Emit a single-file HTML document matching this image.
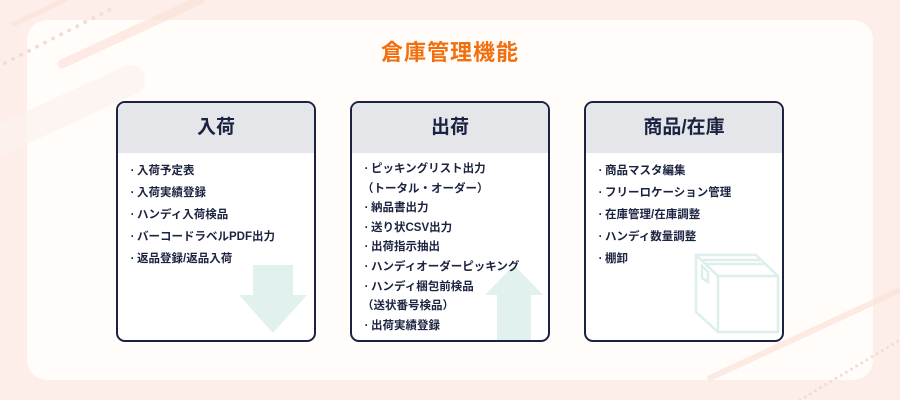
<!DOCTYPE html>
<html><head><meta charset="utf-8"><style>
body{margin:0;width:900px;height:400px;overflow:hidden;background:#fdeee9;position:relative;font-family:"Liberation Sans","Noto Sans CJK JP",sans-serif}
.card{position:absolute;left:27px;top:20px;width:846px;height:360px;background:#fffcfa;border-radius:20px}
.title{position:absolute;left:0;width:900px;top:35px;text-align:center;color:#f0700f;font-size:22px;font-weight:bold;letter-spacing:1px}
.box{position:absolute;top:101px;width:196px;height:237px;border:2.5px solid #1c2340;border-radius:9px;background:#fff;overflow:hidden}
.hd{height:50px;background:#e4e6ea;text-align:center;line-height:50px;font-size:19px;font-weight:bold;color:#1c2340}
ul{list-style:none;margin:0;padding:7px 0 0 10px;font-size:11.5px;font-weight:bold;color:#1c2340;position:relative;z-index:2}
li{line-height:22px;white-space:nowrap}
li b{display:inline-block;width:9px;text-align:center}
.b2 li{line-height:19.6px}
svg{position:absolute;z-index:1}
</style></head><body>
<svg style="left:0;top:0" width="900" height="400">
<g stroke="#fbe3da" stroke-linecap="round" opacity="0.7">
<line x1="14" y1="24" x2="65" y2="0" stroke-width="5"/>
<line x1="62" y1="64" x2="200" y2="0" stroke-width="9"/>
<line x1="0" y1="140" x2="130" y2="80" stroke-width="30" stroke="#fdf3ef"/>
<line x1="710" y1="378" x2="900" y2="290" stroke-width="6"/>
</g>
<line x1="5" y1="63" x2="115" y2="7" stroke="#f3dcd6" stroke-width="4" stroke-dasharray="0 9" stroke-linecap="round"/>
<line x1="800" y1="400" x2="900" y2="340" stroke="#f3dcd6" stroke-width="3" stroke-dasharray="0 6" stroke-linecap="round"/>
</svg>
<div class="card"></div>
<div class="title">倉庫管理機能</div>

<div class="box" style="left:116px">
<div class="hd">入荷</div>
<svg style="left:121px;top:162px" width="70" height="70"><polygon points="14,0 54,0 54,30 68,30 34,68 0,30 14,30" fill="#e0f1ee"/></svg>
<ul><li><b>·</b>入荷予定表</li><li><b>·</b>入荷実績登録</li><li><b>·</b>ハンディ入荷検品</li><li><b>·</b>バーコードラベルPDF出力</li><li><b>·</b>返品登録/返品入荷</li></ul>
</div>

<div class="box b2" style="left:350px">
<div class="hd">出荷</div>
<svg style="left:133px;top:162px" width="60" height="75"><polygon points="29,0 58,30 46,30 46,75 12,75 12,30 0,30" fill="#e0f1ee"/></svg>
<ul><li><b>·</b>ピッキングリスト出力</li><li>（トータル・オーダー）</li><li><b>·</b>納品書出力</li><li><b>·</b>送り状CSV出力</li><li><b>·</b>出荷指示抽出</li><li><b>·</b>ハンディオーダーピッキング</li><li><b>·</b>ハンディ梱包前検品</li><li>（送状番号検品）</li><li><b>·</b>出荷実績登録</li></ul>
</div>

<div class="box" style="left:584px">
<div class="hd">商品/在庫</div>
<svg style="left:108px;top:149px" width="90" height="85" fill="none" stroke="#dcefec" stroke-width="2.5">
<polygon points="2,3 62,3 84,24 84,80 24,80 2,60"/>
<polyline points="2,3 24,24 84,24"/><line x1="24" y1="24" x2="24" y2="80"/>
<polyline points="8,8 66,8"/><polyline points="12,12 70,12"/>
<polygon points="8,14 14,20 14,30 8,26"/>
</svg>
<ul><li><b>·</b>商品マスタ編集</li><li><b>·</b>フリーロケーション管理</li><li><b>·</b>在庫管理/在庫調整</li><li><b>·</b>ハンディ数量調整</li><li><b>·</b>棚卸</li></ul>
</div>
</body></html>
